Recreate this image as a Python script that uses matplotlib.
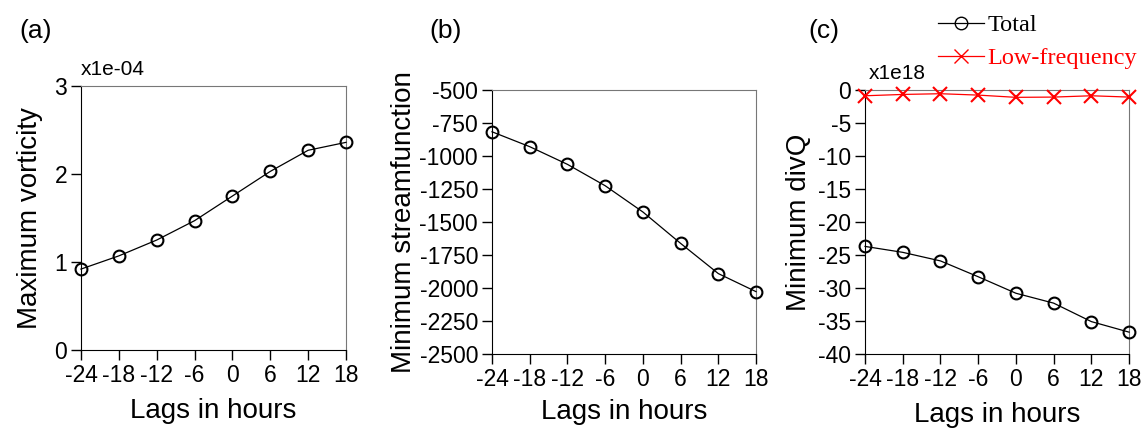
import matplotlib
matplotlib.use("Agg")
import matplotlib.pyplot as plt
from matplotlib.lines import Line2D

plt.rcParams['font.family'] = ['Liberation Sans', 'DejaVu Sans']
plt.rcParams['axes.unicode_minus'] = False  # reference uses plain hyphens

# ---------- DATA ----------
lags = [-24, -18, -12, -6, 0, 6, 12, 18]
max_vort = [0.92, 1.07, 1.25, 1.47, 1.75, 2.03, 2.27, 2.36]  # x1e-04
min_strf = [-816, -929, -1063, -1225, -1424, -1662, -1891, -2028]
divq_total = [-23.7, -24.6, -25.9, -28.3, -30.8, -32.3, -35.1, -36.7]  # x1e18
divq_low = [-0.86, -0.66, -0.55, -0.76, -1.1, -1.06, -0.86, -1.06]

fig = plt.figure(figsize=(11.45, 4.29), dpi=100)
ax_a = fig.add_axes([0.0707, 0.184, 0.2315, 0.6155])
ax_b = fig.add_axes([0.4297, 0.175, 0.2306, 0.615])
ax_c = fig.add_axes([0.7555, 0.175, 0.2306, 0.615])

circ = dict(marker='o', markersize=8.5, markerfacecolor='none', markeredgecolor='black',
            markeredgewidth=1.5, color='black', linewidth=0.9, clip_on=False, zorder=5)

def style(ax, xpad):
    ax.set_xlim(-24, 18)
    ax.set_xticks(lags)
    ax.set_xticklabels([str(v) for v in lags])
    ax.tick_params(direction='out', length=7, width=1, labelsize=16.5, pad=3)
    ax.tick_params(top=False, right=False)
    for s in ['top', 'right']:
        ax.spines[s].set_color('#777777')
    for s in ['left', 'bottom']:
        ax.spines[s].set_color('black')
    ax.set_xlabel("Lags in hours", fontsize=20, labelpad=xpad)

# (a)
ax_a.plot(lags, max_vort, **circ)
ax_a.set_ylim(0, 3)
ax_a.set_yticks([0, 1, 2, 3])
style(ax_a, 8)
ax_a.set_ylabel("Maximum vorticity", fontsize=20, labelpad=8)
ax_a.text(0.0, 1.025, "x1e-04", transform=ax_a.transAxes, fontsize=15, ha='left', va='bottom')
fig.text(0.017, 0.9, "(a)", fontsize=19, ha='left', va='bottom')

# (b)
ax_b.plot(lags, min_strf, **circ)
ax_b.set_ylim(-2500, -500)
ax_b.set_yticks(range(-2500, -499, 250))
style(ax_b, 6)
ax_b.set_ylabel("Minimum streamfunction", fontsize=20, labelpad=2)
fig.text(0.375, 0.9, "(b)", fontsize=19, ha='left', va='bottom')

# (c)
ax_c.plot(lags, divq_total, **circ)
ax_c.plot(lags, divq_low, marker='x', markersize=10, markeredgewidth=1.5, color='red',
          linewidth=0.9, clip_on=False, zorder=6)
ax_c.set_ylim(-40, 0)
ax_c.set_yticks(range(-40, 1, 5))
style(ax_c, 8)
ax_c.set_ylabel("Minimum divQ", fontsize=20, labelpad=4)
ax_c.text(0.015, 1.025, "x1e18", transform=ax_c.transAxes, fontsize=15, ha='left', va='bottom')
fig.text(0.706, 0.9, "(c)", fontsize=19, ha='left', va='bottom')

handles = [
    Line2D([], [], color='black', linewidth=0.9, marker='o', markersize=9,
           markerfacecolor='none', markeredgewidth=1.0),
    Line2D([], [], color='red', linewidth=0.9, marker='x', markersize=10, markeredgewidth=1.0),
]
leg = fig.legend(handles, ["Total", "Low-frequency"], loc='upper left',
                 bbox_to_anchor=(0.819, 0.967), frameon=False, handlelength=1.9,
                 handletextpad=0.15, labelspacing=0.45, borderpad=0, borderaxespad=0,
                 prop={'family': 'Liberation Serif', 'size': 17.5})
leg.get_texts()[1].set_color('red')

fig.savefig("out.png", dpi=100)
